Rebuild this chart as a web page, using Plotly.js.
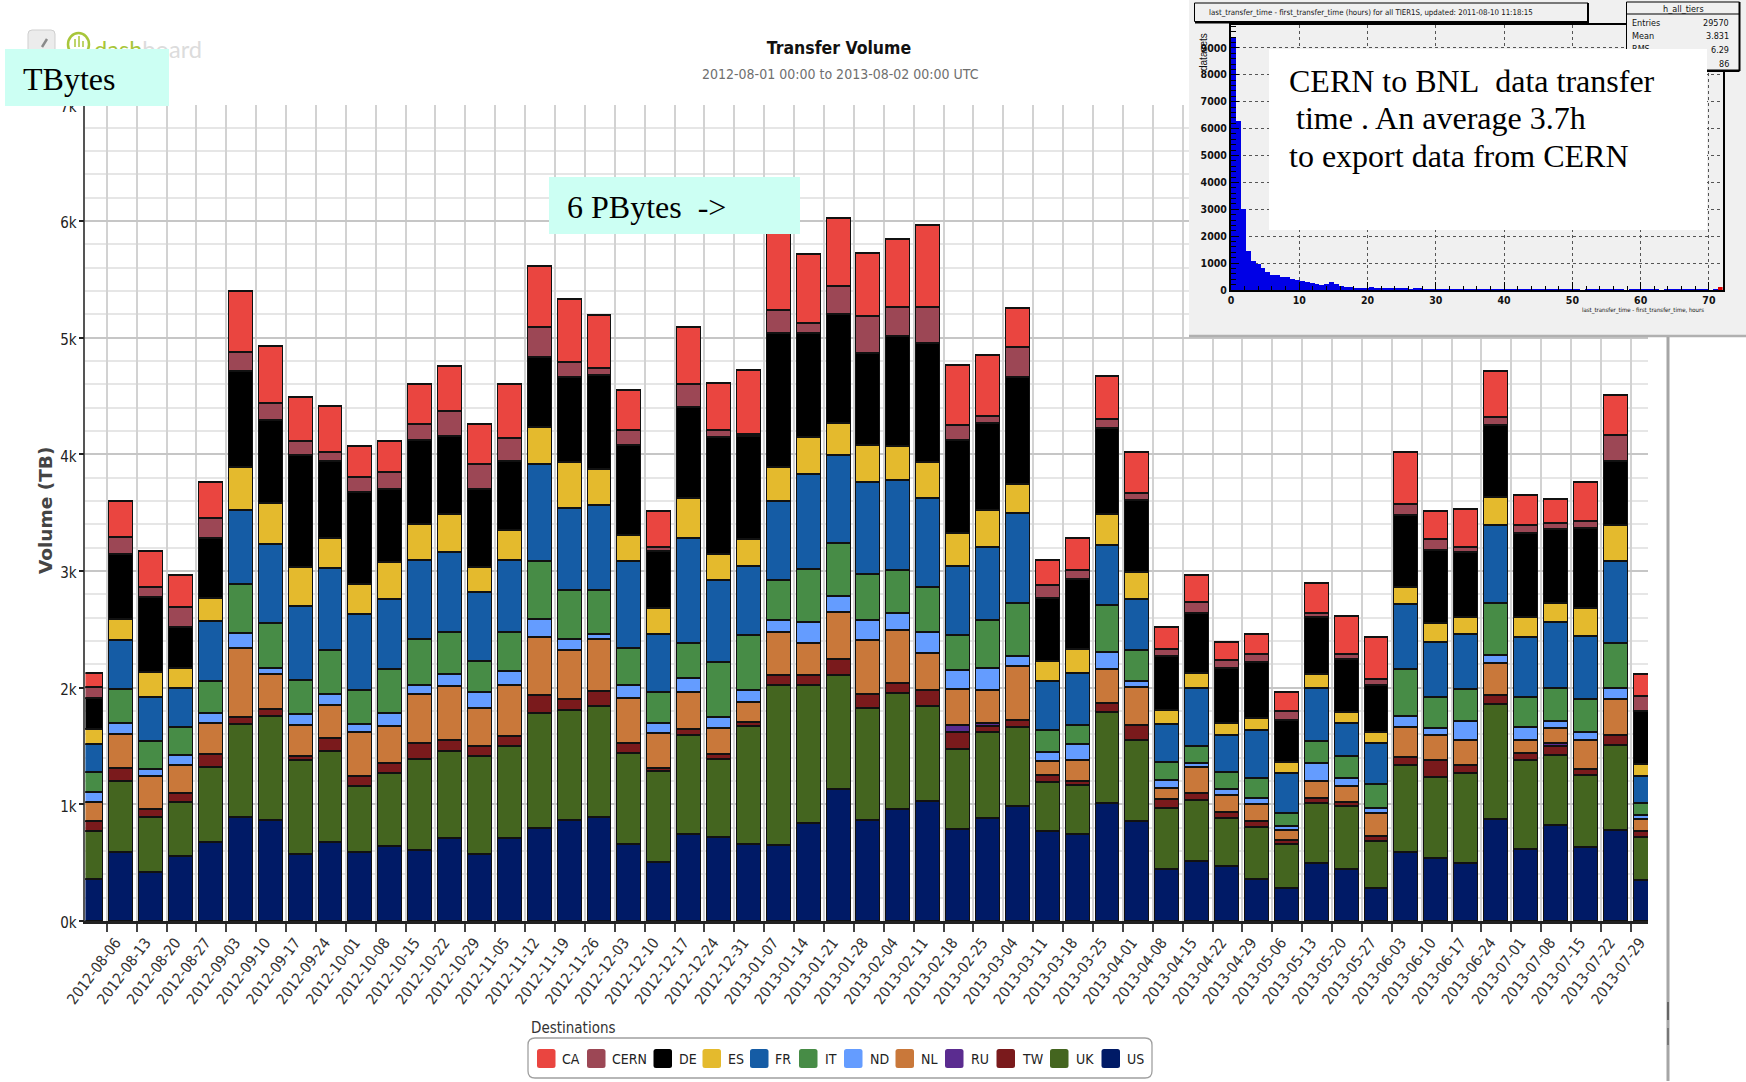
<!DOCTYPE html>
<html>
<head>
<meta charset="utf-8">
<script src="https://cdn.plot.ly/plotly-3.0.1.min.js"></script>
<style>html,body{margin:0;padding:0;background:#fff}#chart{width:1746px;height:1082px}</style>
</head>
<body>
<div id="chart"></div>
<script>
// ---- data ----
const tickDates = ['2012-08-06','2012-08-13','2012-08-20','2012-08-27','2012-09-03','2012-09-10','2012-09-17','2012-09-24','2012-10-01','2012-10-08','2012-10-15','2012-10-22','2012-10-29','2012-11-05','2012-11-12','2012-11-19','2012-11-26','2012-12-03','2012-12-10','2012-12-17','2012-12-24','2012-12-31','2013-01-07','2013-01-14','2013-01-21','2013-01-28','2013-02-04','2013-02-11','2013-02-18','2013-02-25','2013-03-04','2013-03-11','2013-03-18','2013-03-25','2013-04-01','2013-04-08','2013-04-15','2013-04-22','2013-04-29','2013-05-06','2013-05-13','2013-05-20','2013-05-27','2013-06-03','2013-06-10','2013-06-17','2013-06-24','2013-07-01','2013-07-08','2013-07-15','2013-07-22','2013-07-29'];
const firstWeek = '2012-07-30';
const yTickValues = [0,1000,2000,3000,4000,5000,6000,7000];
const yTickLabels = ['0k','1k','2k','3k','4k','5k','6k','7k'];

const US   = [360,589,414,549,669,889,860,574,669,589,640,603,711,566,711,794,863,889,657,505,740,712,659,647,837,1124,861,954,1023,781,878,983,768,740,1011,849,445,507,467,357,277,493,443,277,590,537,493,873,613,820,630,777,347];
const UK   = [406,605,472,471,648,794,891,800,785,565,623,783,740,848,783,983,943,954,780,773,849,675,1011,1375,1185,979,959,999,813,687,740,675,417,425,780,700,522,523,416,443,376,514,537,403,740,696,770,984,767,603,617,730,373];
const TW   = [83,115,71,71,112,60,58,40,112,89,86,137,98,86,86,154,97,128,86,32,49,41,33,85,85,141,125,85,137,146,52,61,61,32,73,125,72,60,44,57,34,40,33,43,73,144,74,80,57,70,53,80,50];
const RU   = [0,0,0,0,0,0,0,0,0,0,0,0,0,0,0,0,0,0,0,0,0,0,0,0,0,0,0,0,0,64,20,0,0,0,0,0,0,0,0,0,0,0,0,0,0,0,0,0,0,30,0,0,0];
const NL   = [171,294,280,243,268,591,308,266,283,374,320,417,460,320,440,498,420,443,388,295,319,222,173,364,271,405,461,449,324,308,283,465,121,178,296,324,101,227,146,140,86,150,140,200,257,210,210,273,110,130,247,310,97];
const ND   = [80,94,66,83,83,135,46,94,91,66,108,83,108,137,123,160,91,43,106,85,122,93,97,109,178,133,166,146,174,161,191,85,81,141,145,52,65,30,57,50,34,150,70,44,93,60,163,70,110,57,70,96,36];
const IT   = [177,289,234,243,271,420,388,292,383,297,383,391,354,266,328,491,423,380,317,267,299,473,474,340,457,457,400,372,392,300,416,449,186,158,400,271,154,146,147,176,116,190,190,206,404,266,273,443,256,283,283,384,104];
const FR   = [232,417,380,337,515,628,678,634,703,651,594,677,692,597,623,831,703,729,746,502,898,704,594,679,817,752,789,768,760,594,623,772,420,449,510,433,327,500,313,407,340,456,284,347,556,474,474,664,514,567,540,703,230];
const ES   = [131,183,212,169,200,372,348,331,251,255,320,309,320,214,252,318,391,308,226,222,343,226,227,291,315,275,319,295,308,279,319,251,170,206,271,231,122,130,107,107,97,120,93,93,147,160,143,243,173,163,240,307,103];
const DE   = [269,557,648,351,511,825,717,963,663,785,626,717,674,663,594,605,729,800,770,485,781,999,889,1145,890,931,785,943,1023,797,744,918,538,595,736,618,457,517,466,483,360,487,453,404,620,633,557,620,723,630,687,550,457];
const CERN = [91,143,86,172,172,160,143,120,77,132,143,143,214,214,200,255,131,63,130,37,198,61,15,202,89,242,315,250,307,129,61,254,117,81,77,61,60,90,67,67,77,37,40,50,87,90,46,63,67,54,56,226,130];
const CA   = [123,314,303,271,311,520,486,375,392,268,268,340,380,349,460,525,538,457,339,311,489,404,551,713,590,583,542,583,704,514,518,336,215,271,372,356,190,230,160,170,163,256,324,363,446,243,324,397,260,203,337,340,183];

const stackOrder = [['US',US,'#001a66'],['UK',UK,'#44651f'],['TW',TW,'#7a1a1c'],['RU',RU,'#5b2c90'],['NL',NL,'#c9783a'],['ND',ND,'#649cff'],['IT',IT,'#478c46'],['FR',FR,'#155ca5'],['ES',ES,'#e4ba2d'],['DE',DE,'#000000'],['CERN',CERN,'#9c4755'],['CA',CA,'#ea4540']];
const legendOrder = ['CA','CERN','DE','ES','FR','IT','ND','NL','RU','TW','UK','US'];

// inset histogram: datasets per 0.72 h bin
const histBinWidth = 0.72;
const histCounts = [9400,6300,3000,1450,1080,980,800,680,570,550,500,470,400,390,350,280,270,210,170,230,280,240,160,120,110,90,90,70,100,70,70,60,40,70,70,60,30,70,70,30,30,25,30,20,30,25,25,20,25,20,20,25,20,25,20,20,25,20,20,15,20,15,20,20,15,20,15,20,15,15,20,0,20,15,20,15,15,20,15,15,0,15,20,15,15,20,15,0,15,20,15,20,15,15,20,15,15,0,15,130];
const histOverflowBin = 99;
const histXTicks = [0,10,20,30,40,50,60,70];
const histYTicks = [0,1000,2000,3000,4000,5000,6000,7000,8000,9000];

// ---- page geometry (page pixels -> paper fractions; margins are 0) ----
const W = 1746, H = 1082;
const X = x => x / W, Y = y => 1 - y / H;
const COND = '"DejaVu Sans Condensed","DejaVu Sans",sans-serif';
const SERIF = '"Liberation Serif",serif';
const DAY = 86400000;

const traces = stackOrder.map(([name, vals, color]) => ({
  type: 'bar', name, y: vals,
  x: [firstWeek].concat(tickDates),
  width: 5.6 * DAY, offset: 0.7 * DAY,
  marker: {color, line: {color: '#111', width: 1.4}},
  hoverinfo: 'skip', xaxis: 'x', yaxis: 'y'
}));
// helper subplot holding the inset panel background
traces.push({type: 'scatter', mode: 'none', x: [0], y: [0], xaxis: 'x2', yaxis: 'y2', hoverinfo: 'skip', showlegend: false});
// inset histogram
traces.push({
  type: 'bar', name: 'h_all_tiers',
  x: histCounts.map((_, i) => i * histBinWidth), y: histCounts,
  width: histBinWidth, offset: 0,
  marker: {color: histCounts.map((_, i) => i === histOverflowBin ? '#e00000' : '#0000e6'), line: {width: 0}},
  hoverinfo: 'skip', xaxis: 'x3', yaxis: 'y3'
});

const rr = (x0, y0, x1, y1, r) => {
  const a = X(x0), b = X(x1), c = Y(y0), d = Y(y1), rx = r / W, ry = r / H;
  return `M${a + rx},${c} L${b - rx},${c} Q${b},${c} ${b},${c - ry} L${b},${d + ry} Q${b},${d} ${b - rx},${d} L${a + rx},${d} Q${a},${d} ${a},${d + ry} L${a},${c - ry} Q${a},${c} ${a + rx},${c} Z`;
};
const rect = (x0, y0, x1, y1, fill, line, lw) => ({type: 'rect', xref: 'paper', yref: 'paper', x0: X(x0), x1: X(x1), y0: Y(y0), y1: Y(y1), fillcolor: fill, line: {color: line || fill, width: lw === undefined ? 1 : lw}, layer: 'above'});
const seg = (x0, y0, x1, y1, color, w) => ({type: 'line', xref: 'paper', yref: 'paper', x0: X(x0), x1: X(x1), y0: Y(y0), y1: Y(y1), line: {color, width: w}, layer: 'above'});

const shapes = [
  // inset panel, above the main gridlines and below the histogram
  {type: 'rect', xref: 'x2', yref: 'y2', x0: 0, x1: 1, y0: 0, y1: 1, fillcolor: '#f0f0f0', line: {width: 0}, layer: 'between'},
  seg(1189, 336, 1746, 336, '#b0b0b0', 2.5),
  // right-hand window edge
  seg(1668, 337, 1668, 1081, '#a6a6a6', 3),
  seg(1668, 1002, 1668, 1020, '#666', 2),
  seg(1668, 1028, 1668, 1045, '#777', 2),
  // logo
  {type: 'path', xref: 'paper', yref: 'paper', path: rr(28, 30, 55, 56, 4), fillcolor: '#ececec', line: {color: '#cfcfcf', width: 1}, layer: 'above'},
  seg(42, 47, 47, 39, '#8a8a8a', 2.5),
  {type: 'circle', xref: 'paper', yref: 'paper', x0: X(68), x1: X(89), y0: Y(33), y1: Y(56), line: {color: '#a8c63a', width: 2.5}, layer: 'above'},
  seg(75, 47, 75, 39, '#a8c63a', 1.5), seg(79, 47, 79, 36, '#a8c63a', 1.5), seg(83, 47, 83, 41, '#a8c63a', 1.5),
  // inset title box
  rect(1194.5, 3, 1588, 21.5, '#f0f0f0', '#000', 1),
  seg(1588, 3, 1588, 23, '#000', 2), seg(1195, 22.5, 1588, 22.5, '#000', 2),
  // inset stats box
  rect(1626.5, 2, 1739.5, 70, '#f0f0f0', '#000', 1),
  seg(1627, 14, 1739, 14, '#000', 1), seg(1739.5, 2, 1739.5, 71, '#000', 2), seg(1627, 71, 1739.5, 71, '#000', 2),
  // legend frame
  {type: 'path', xref: 'paper', yref: 'paper', path: rr(528, 1038, 1152, 1078, 7), fillcolor: '#fff', line: {color: '#a0a0a0', width: 1.3}, layer: 'above'}
];

const txt = (x, y, text, font, xanchor, extra) => Object.assign({xref: 'paper', yref: 'paper', x: X(xanchor ? x : x - 1.5), y: Y(y), text, font, xanchor: xanchor || 'left', yanchor: 'middle', showarrow: false}, extra || {});
const box = (x0, y0, x1, y1, color) => ({xref: 'paper', yref: 'paper', x: X(x0), y: Y(y0), xanchor: 'left', yanchor: 'top', width: x1 - x0, height: y1 - y0, text: '\u00a0', font: {size: 6, color}, bgcolor: color, showarrow: false, borderpad: 0, borderwidth: 0});

const annotations = [
  txt(93, 49, '<span style="color:#a8c63a">dash</span><span style="color:#dcdcdc">board</span>', {family: 'Lato,sans-serif', size: 23.6}),
  txt(840, 74, '2012-08-01 00:00 to 2013-08-02 00:00 UTC', {family: COND, size: 14, color: '#6f6f6f'}, 'center'),
  txt(530, 1028, 'Destinations', {family: COND, size: 15, color: '#333'}),
  txt(45, 511, 'Volume (TB)', {family: '"DejaVu Sans",sans-serif', size: 18.5, weight: 700, color: '#444'}, 'center', {textangle: -90}),
  // inset texts
  txt(1208, 12, 'last_transfer_time - first_transfer_time (hours) for all TIER1S, updated: 2011-08-10 11:18:15', {family: COND, size: 7.8, color: '#111'}),
  txt(1683, 9, 'h_all_tiers', {family: COND, size: 9, color: '#111'}, 'center'),
  txt(1631, 23, 'Entries', {family: COND, size: 9, color: '#111'}),
  txt(1731, 23, '29570', {family: COND, size: 9, color: '#111'}, 'right'),
  txt(1631, 36, 'Mean', {family: COND, size: 9, color: '#111'}),
  txt(1731, 36, '3.831', {family: COND, size: 9, color: '#111'}, 'right'),
  txt(1631, 49, 'RMS', {family: COND, size: 9, color: '#111'}),
  txt(1731, 50, '6.29', {family: COND, size: 9, color: '#111'}, 'right'),
  txt(1731, 64, '86', {family: COND, size: 9, color: '#111'}, 'right'),
  txt(1204, 52, 'datasets', {family: '"Liberation Sans",sans-serif', size: 10, color: '#111'}, 'center', {textangle: -90}),
  txt(1706, 310, 'last_transfer_time - first_transfer_time, hours', {family: COND, size: 6, color: '#111'}, 'right'),
  // overlay boxes and their texts
  box(5, 49, 169, 106, '#ccfff3'),
  txt(22, 79, 'TBytes', {family: SERIF, size: 32, color: '#000'}),
  box(549, 177, 800, 234, '#ccfff3'),
  txt(566, 207, '6 PBytes\u00a0\u00a0->', {family: SERIF, size: 32, color: '#000'}),
  box(1269, 49, 1707, 230, '#ffffff'),
  txt(1288, 81, 'CERN to BNL\u00a0\u00a0data transfer', {family: SERIF, size: 32, color: '#000'}),
  txt(1295, 118, 'time . An average 3.7h', {family: SERIF, size: 32, color: '#000'}),
  txt(1288, 156, 'to export data from CERN', {family: SERIF, size: 32, color: '#000'})
];

// custom legend, drawn from the legend order
const swatchX = [537, 587, 653.5, 702.5, 750, 799, 844, 895.5, 945, 996.5, 1050, 1101.5];
const labelX = [561.5, 611.5, 678, 727, 774.5, 824, 869, 920, 970.5, 1021.5, 1075.5, 1126];
legendOrder.forEach((name, i) => {
  const color = stackOrder.find(s => s[0] === name)[2];
  shapes.push({type: 'path', xref: 'paper', yref: 'paper', path: rr(swatchX[i], 1049, swatchX[i] + 18.5, 1068, 2.5), fillcolor: color, line: {width: 0}, layer: 'above'});
  annotations.push(txt(labelX[i], 1058.5, name, {family: COND, size: 14, color: '#222'}));
});

const layout = {
  width: W, height: H,
  margin: {l: 0, r: 0, t: 0, b: 0, pad: 0},
  paper_bgcolor: '#fff', plot_bgcolor: 'rgba(0,0,0,0)',
  showlegend: false, barmode: 'stack', bargap: 0,
  title: {text: 'Transfer Volume', x: X(839), y: Y(47.5), xref: 'paper', yref: 'paper', xanchor: 'center', yanchor: 'middle', font: {family: COND, size: 17.5, weight: 700, color: '#111'}},
  xaxis: {
    type: 'date', domain: [X(85.4), X(1648)], anchor: 'y',
    range: ['2012-08-01', '2013-08-02'],
    tickmode: 'array', tickvals: tickDates, ticktext: tickDates,
    tickangle: -53, ticks: 'outside', ticklen: 8, tickwidth: 1.5, tickcolor: '#444',
    ticklabelshift: 9, ticklabelstandoff: -4,
    tickfont: {family: COND, size: 15, color: '#333'},
    showgrid: true, gridcolor: '#d2d2d2', gridwidth: 1.6,
    showline: true, linecolor: '#222', linewidth: 2.5, zeroline: false
  },
  yaxis: {
    domain: [Y(921), Y(104.5)], anchor: 'x', range: [0, 7000],
    tickmode: 'array', tickvals: yTickValues, ticktext: yTickLabels,
    ticks: 'outside', ticklen: 5, tickwidth: 1.5, tickcolor: '#222',
    ticklabelshift: 2, ticklabelstandoff: -1,
    tickfont: {family: COND, size: 15, color: '#222'},
    showgrid: true, gridcolor: '#c6c6c6', gridwidth: 1.8,
    minor: {dtick: 200, showgrid: true, gridcolor: '#e6e6e6', gridwidth: 1.8, ticks: ''},
    showline: true, linecolor: '#555', linewidth: 1.6, zeroline: false
  },
  // helper axes: the inset panel
  xaxis2: {domain: [X(1189), 1], anchor: 'y2', visible: false, range: [0, 1], fixedrange: true},
  yaxis2: {domain: [Y(336), 1], anchor: 'x2', visible: false, range: [0, 1], fixedrange: true},
  // inset histogram axes
  xaxis3: {
    domain: [X(1231), X(1722.6)], anchor: 'y3', range: [0, 72],
    tickmode: 'array', tickvals: histXTicks, ticktext: histXTicks.map(String),
    ticks: 'inside', ticklen: 8, tickwidth: 1.2, tickcolor: '#000',
    minor: {dtick: 2, ticks: 'inside', ticklen: 4, tickcolor: '#000', showgrid: false},
    tickfont: {family: COND, size: 10.5, weight: 700, color: '#111'},
    showgrid: true, griddash: 'dot', gridcolor: '#555', gridwidth: 1,
    showline: true, linecolor: '#000', linewidth: 1.6, mirror: true, zeroline: false
  },
  yaxis3: {
    domain: [Y(290), Y(25)], anchor: 'x3', range: [0, 9850],
    tickmode: 'array', tickvals: histYTicks, ticktext: histYTicks.map(String),
    ticks: 'inside', ticklen: 8, tickwidth: 1.4, tickcolor: '#000',
    minor: {dtick: 200, ticks: 'inside', ticklen: 5, tickwidth: 1.2, tickcolor: '#000', showgrid: false},
    tickfont: {family: COND, size: 10.5, weight: 700, color: '#111'},
    showgrid: true, griddash: 'dot', gridcolor: '#555', gridwidth: 1,
    showline: true, linecolor: '#000', linewidth: 2, mirror: true, zeroline: false
  },
  shapes, annotations
};

Plotly.newPlot('chart', traces, layout, {displayModeBar: false, responsive: false});
</script>
</body>
</html>
